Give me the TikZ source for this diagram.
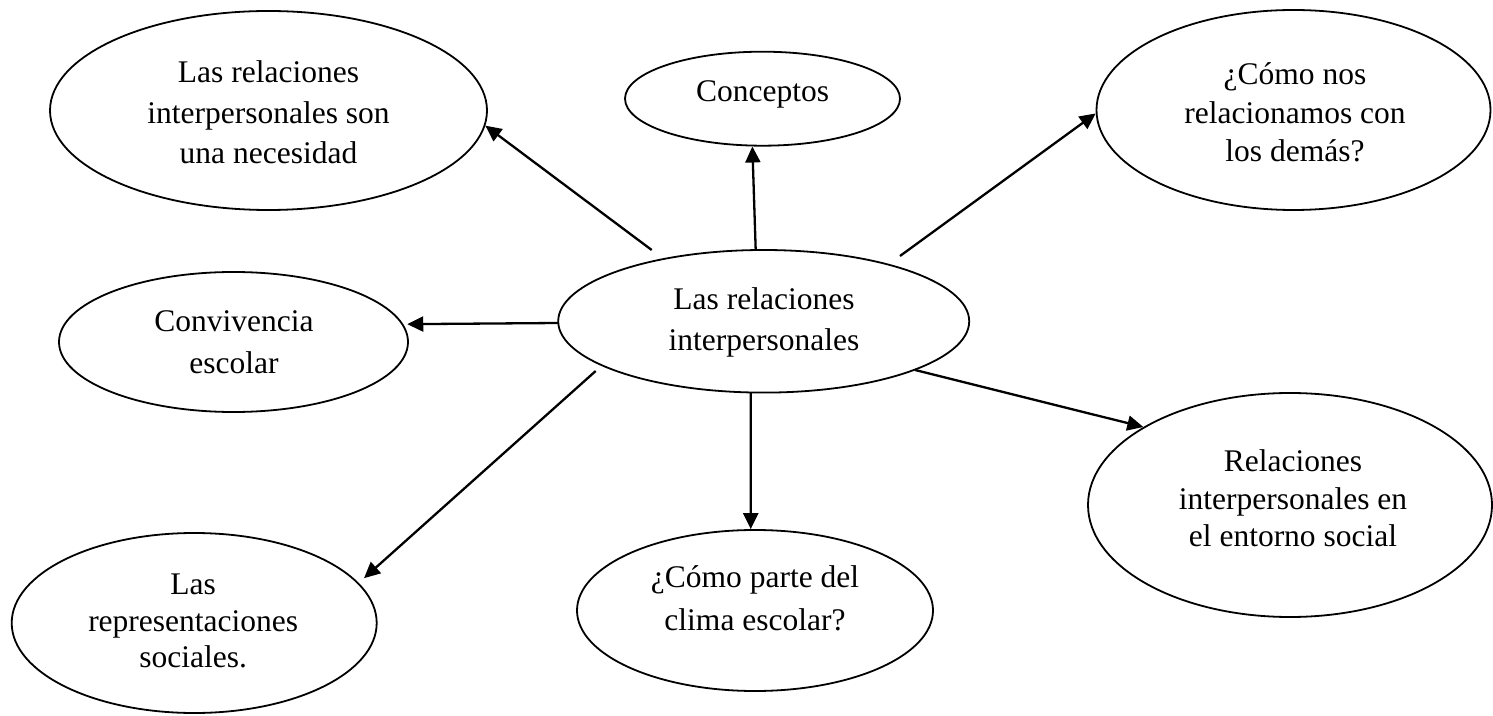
\documentclass[tikz,border=0pt]{standalone}
\usepackage{fontspec}
\setmainfont{Liberation Serif}
\usetikzlibrary{shapes.geometric,arrows.meta}
\tikzset{
  oval/.style={ellipse, draw=black, line width=0.9pt, inner sep=0pt},
  txt/.style={align=center, inner sep=0pt, font=\fontsize{15.75pt}{#1pt}\selectfont},
  conn/.style={line width=1.15pt, -{Triangle[length=8pt,width=7.5pt]}}
}
\begin{document}
\begin{tikzpicture}[x=0.5pt,y=-0.5pt]
\useasboundingbox (0,0) rectangle (1493,716);
% ellipses
\node[oval, minimum width=218.5pt, minimum height=99.5pt] (e1) at (268.5,110.5) {};
\node[oval, minimum width=137.5pt, minimum height=47pt] (e2) at (762.5,98.7) {};
\node[oval, minimum width=197pt, minimum height=100pt] (e3) at (1293.5,110) {};
\node[oval, minimum width=205.5pt, minimum height=71.3pt] (ec) at (763.7,321.3) {};
\node[oval, minimum width=174.5pt, minimum height=70pt] (e5) at (233.5,342) {};
\node[oval, minimum width=202pt, minimum height=112pt] (e6) at (1290,505) {};
\node[oval, minimum width=178pt, minimum height=80.5pt] (e7) at (755,610.5) {};
\node[oval, minimum width=182.5pt, minimum height=90pt] (e8) at (194.2,623) {};
% texts
\node[txt=20.2] (t1) at (268.5,112.3) {Las relaciones\\interpersonales son\\una necesidad};
\node[txt=20] (t2) at (762.5,94.4) {Conceptos};
\node[txt=19.25] (t3) at (1295,112.6) {¿Cómo nos\\relacionamos con\\los demás?};
\node[txt=20.35] (tc) at (764,322.3) {Las relaciones\\interpersonales};
\node[txt=21] (t5) at (234,342.3) {Convivencia\\escolar};
\node[txt=18.75] (t6) at (1293,498.5) {Relaciones\\interpersonales en\\el entorno social};
\node[txt=21.35] (t7) at (755,598.5) {¿Cómo parte del\\clima escolar?};
\node[txt=18.35] (t8) at (193.2,621) {Las\\representaciones\\sociales.};
% arrow start points
\coordinate (s1) at (651.7,250);
\coordinate (s2) at (755.7,250);
\coordinate (s3) at (900,256);
\coordinate (s4) at (558,323);
\coordinate (s5) at (595.7,371);
\coordinate (s6) at (750.7,392.7);
\coordinate (s7) at (915,370);
% connectors
\draw[conn] (s1) -- (e1.-4.65);
\draw[conn] (s2) -- (e2.-102.7);
\draw[conn] (s3) -- (e3.-179.13);
\draw[conn] (s4) -- ([xshift=2pt]e5.6.21);
\draw[conn] (s5) -- ([xshift=3pt,yshift=2pt]e8.14.35);
\draw[conn] (s6) -- (e7.93);
\draw[conn] (s7) -- (e6.152.2);
\end{tikzpicture}
\end{document}
